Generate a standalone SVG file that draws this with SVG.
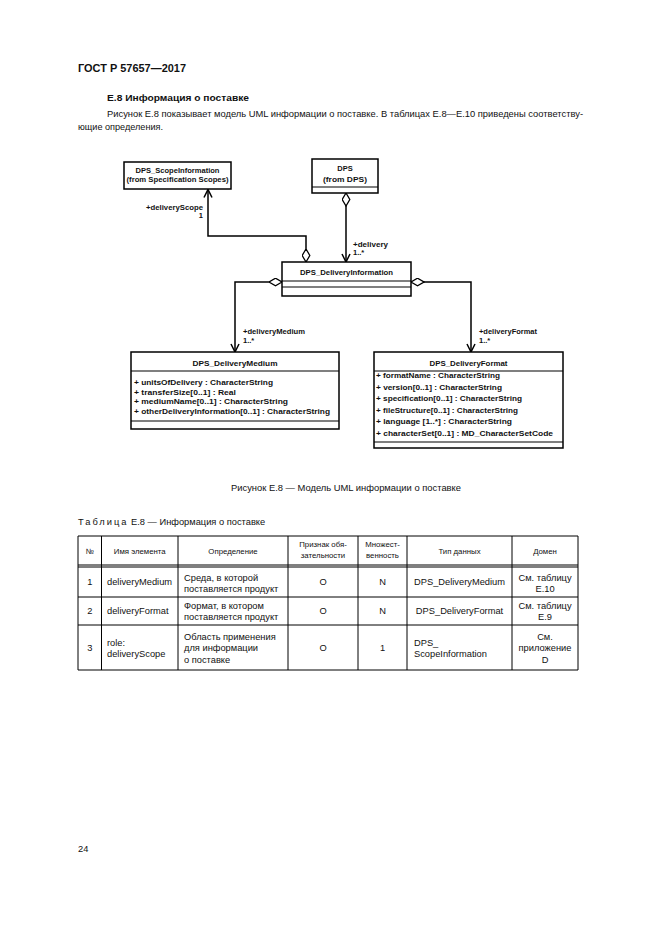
<svg xmlns="http://www.w3.org/2000/svg" width="661" height="935" viewBox="0 0 661 935">
<defs>
<style>
text{font-family:"Liberation Sans",Arial,sans-serif;fill:#111}
.h{font-size:10.5px;font-weight:bold}
.p{font-size:9.3px}
.sb{font-size:9.3px;font-weight:bold}
.u{font-size:7.5px;font-weight:bold}
.c{text-anchor:middle}
.e{text-anchor:end}
.t{font-size:9.3px}
.th{font-size:7.8px}
.box{fill:#fff;stroke:#000;stroke-width:1.5}
.div{stroke:#000;stroke-width:1.2;fill:none}
.conn{fill:none;stroke:#000;stroke-width:1.5;marker-start:url(#dia);marker-end:url(#arr)}
.grid{fill:none;stroke:#000;stroke-width:1}
</style>
<marker id="dia" markerUnits="userSpaceOnUse" viewBox="0 0 14 9" refX="0.5" refY="4.5" markerWidth="14" markerHeight="9" orient="auto">
<path d="M0.5,4.5 L7,0.7 L13.5,4.5 L7,8.3 Z" fill="#fff" stroke="#000" stroke-width="1.3"/>
</marker>
<marker id="arr" markerUnits="userSpaceOnUse" viewBox="0 0 10 10" refX="9.5" refY="5" markerWidth="10" markerHeight="10" orient="auto">
<path d="M1.5,1 L9.5,5 L1.5,9" fill="none" stroke="#000" stroke-width="1.5"/>
</marker>
</defs>
<rect width="661" height="935" fill="#fff"/>

<!-- page header text -->
<text class="h" x="78" y="72" textLength="108" lengthAdjust="spacingAndGlyphs">ГОСТ Р 57657—2017</text>
<text class="sb" x="107" y="100.5" textLength="142" lengthAdjust="spacingAndGlyphs">Е.8 Информация о поставке</text>
<text class="p" x="107" y="116.5" textLength="476" lengthAdjust="spacingAndGlyphs">Рисунок Е.8 показывает модель UML информации о поставке. В таблицах Е.8—Е.10 приведены соответству-</text>
<text class="p" x="78" y="129.5" textLength="85" lengthAdjust="spacingAndGlyphs">ющие определения.</text>

<!-- connectors -->
<g id="connectors">
<path class="conn" d="M306,262 V236 H208 V189.5"/>
<path class="conn" d="M346,193 V262"/>
<path class="conn" d="M282,282 H235 V352"/>
<path class="conn" d="M411,282 H471 V352"/>
<text class="u e" x="203" y="209.5" textLength="57" lengthAdjust="spacingAndGlyphs">+deliveryScope</text>
<text class="u e" x="203" y="218">1</text>
<text class="u" x="353" y="246.5" textLength="35" lengthAdjust="spacingAndGlyphs">+delivery</text>
<text class="u" x="353" y="255">1..*</text>
<text class="u" x="243" y="334" textLength="62" lengthAdjust="spacingAndGlyphs">+deliveryMedium</text>
<text class="u" x="243" y="342.5">1..*</text>
<text class="u" x="479" y="334" textLength="58" lengthAdjust="spacingAndGlyphs">+deliveryFormat</text>
<text class="u" x="479" y="342.5">1..*</text>
</g>

<g id="node-scope">
<rect class="box" x="124" y="162" width="107" height="27"/>
<text class="u c" x="177.5" y="172.5" textLength="84" lengthAdjust="spacingAndGlyphs">DPS_ScopeInformation</text>
<text class="u c" x="177.5" y="181.5" textLength="102" lengthAdjust="spacingAndGlyphs">(from Specification Scopes)</text>
</g>

<g id="node-dps">
<rect class="box" x="312" y="159" width="66" height="34"/>
<path class="div" d="M312,187 H378"/>
<text class="u c" x="345" y="170.5">DPS</text>
<text class="u c" x="345" y="181.5" textLength="44" lengthAdjust="spacingAndGlyphs">(from DPS)</text>
</g>

<g id="node-deliveryinformation">
<rect class="box" x="282" y="262" width="129" height="34"/>
<path class="div" d="M282,281 H411 M282,287 H411"/>
<text class="u c" x="346.5" y="275" textLength="93" lengthAdjust="spacingAndGlyphs">DPS_DeliveryInformation</text>
</g>

<g id="node-deliverymedium">
<rect class="box" x="131" y="352" width="208" height="77"/>
<path class="div" d="M131,371 H339 M131,421 H339"/>
<text class="u c" x="235" y="365.5" textLength="85" lengthAdjust="spacingAndGlyphs">DPS_DeliveryMedium</text>
<text class="u" x="134" y="385" textLength="139" lengthAdjust="spacingAndGlyphs">+ unitsOfDelivery : CharacterString</text>
<text class="u" x="134" y="394.5" textLength="102" lengthAdjust="spacingAndGlyphs">+ transferSize[0..1] : Real</text>
<text class="u" x="134" y="404" textLength="154" lengthAdjust="spacingAndGlyphs">+ mediumName[0..1] : CharacterString</text>
<text class="u" x="134" y="413.5" textLength="196" lengthAdjust="spacingAndGlyphs">+ otherDeliveryInformation[0..1] : CharacterString</text>
</g>

<g id="node-deliveryformat">
<rect class="box" x="374" y="352" width="189" height="96"/>
<path class="div" d="M374,371 H563 M374,442 H563"/>
<text class="u c" x="468.5" y="365.5" textLength="78" lengthAdjust="spacingAndGlyphs">DPS_DeliveryFormat</text>
<text class="u" x="376" y="378" textLength="124" lengthAdjust="spacingAndGlyphs">+ formatName : CharacterString</text>
<text class="u" x="376" y="389.5" textLength="126" lengthAdjust="spacingAndGlyphs">+ version[0..1] : CharacterString</text>
<text class="u" x="376" y="401" textLength="146" lengthAdjust="spacingAndGlyphs">+ specification[0..1] : CharacterString</text>
<text class="u" x="376" y="412.5" textLength="142" lengthAdjust="spacingAndGlyphs">+ fileStructure[0..1] : CharacterString</text>
<text class="u" x="376" y="424" textLength="136" lengthAdjust="spacingAndGlyphs">+ language [1..*] : CharacterString</text>
<text class="u" x="376" y="435.5" textLength="177" lengthAdjust="spacingAndGlyphs">+ characterSet[0..1] : MD_CharacterSetCode</text>
</g>

<text class="p c" x="346" y="490.5" textLength="230" lengthAdjust="spacingAndGlyphs">Рисунок Е.8 — Модель UML информации о поставке</text>
<text class="p" x="78" y="524.5"><tspan letter-spacing="2">Таблица</tspan> Е.8 — Информация о поставке</text>

<!-- table -->
<g id="table">
<path class="grid" d="M78,536 H578 V670 H78 Z M78,565 H578 M78,567 H578 M78,597 H578 M78,625 H578 M101.5,536 V670 M178,536 V670 M288,536 V670 M358,536 V670 M407,536 V670 M512,536 V670"/>
<text class="th c" x="89.75" y="553.5">№</text>
<text class="th c" x="139.75" y="553.5">Имя элемента</text>
<text class="th c" x="233" y="553.5">Определение</text>
<text class="th c" x="323" y="547">Признак обя-</text>
<text class="th c" x="323" y="558">зательности</text>
<text class="th c" x="382.5" y="547">Множест-</text>
<text class="th c" x="382.5" y="558">венность</text>
<text class="th c" x="459.5" y="553.5">Тип данных</text>
<text class="th c" x="545" y="553.5">Домен</text>

<text class="t c" x="89.75" y="585">1</text>
<text class="t" x="107" y="585">deliveryMedium</text>
<text class="t" x="184" y="580.5">Среда, в которой</text>
<text class="t" x="184" y="591.5">поставляется продукт</text>
<text class="t c" x="323" y="585">О</text>
<text class="t c" x="382.5" y="585">N</text>
<text class="t c" x="459.5" y="585">DPS_DeliveryMedium</text>
<text class="t c" x="545" y="580.5">См. таблицу</text>
<text class="t c" x="545" y="591.5">Е.10</text>

<text class="t c" x="89.75" y="614">2</text>
<text class="t" x="107" y="614">deliveryFormat</text>
<text class="t" x="184" y="608.5">Формат, в котором</text>
<text class="t" x="184" y="619.5">поставляется продукт</text>
<text class="t c" x="323" y="614">О</text>
<text class="t c" x="382.5" y="614">N</text>
<text class="t c" x="459.5" y="614">DPS_DeliveryFormat</text>
<text class="t c" x="545" y="608.5">См. таблицу</text>
<text class="t c" x="545" y="619.5">Е.9</text>

<text class="t c" x="89.75" y="651">3</text>
<text class="t" x="107" y="645.5">role:</text>
<text class="t" x="107" y="657">deliveryScope</text>
<text class="t" x="184" y="639.5">Область применения</text>
<text class="t" x="184" y="651">для информации</text>
<text class="t" x="184" y="662.5">о поставке</text>
<text class="t c" x="323" y="651">О</text>
<text class="t c" x="382.5" y="651">1</text>
<text class="t" x="414" y="645.5">DPS_</text>
<text class="t" x="414" y="657">ScopeInformation</text>
<text class="t c" x="545" y="639.5">См.</text>
<text class="t c" x="545" y="651">приложение</text>
<text class="t c" x="545" y="662.5">D</text>
</g>

<text class="p" x="78" y="851.5">24</text>
</svg>
